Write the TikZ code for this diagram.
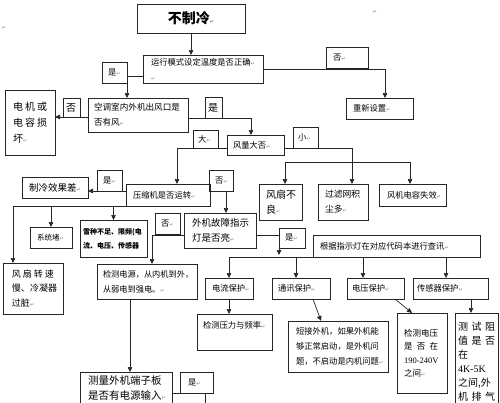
\documentclass[tikz,border=0pt]{standalone}
\usepackage{fontspec}
\setmainfont{Noto Sans CJK SC}
\newfontfamily\dejavu{DejaVu Sans}
\newfontfamily\tnr{Liberation Serif}
\usetikzlibrary{arrows.meta,calc}
\newcommand\rt{{\dejavu\fontsize{5}{5}\selectfont\color{black!50}↵}}
\newcommand\bx[8][]{%
  \pgfmathsetmacro\bxw{#5-#3}\pgfmathsetmacro\bxh{#6-#4}\pgfmathsetmacro\bxt{#5-#3-2*#7}%
  \node[box, anchor=north west, minimum width=\bxw pt, minimum height=\bxh pt,
        text width=\bxt pt, inner xsep=#7pt, #1] (#2) at (#3,#4) {#8};}
\tikzset{
  box/.style={draw=black!85, line width=0.7pt, inner ysep=0pt, outer sep=0pt,
              align=left, font=\fontsize{8.3}{15}\selectfont},
  ln/.style={draw=black!85, line width=0.7pt},
  arr/.style={ln, -{Triangle[length=5pt,width=4.5pt]}},
}
\begin{document}
\begin{tikzpicture}[x=1pt,y=-1pt]
\useasboundingbox (0,0) rectangle (500,402);
\fill[white] (0,0) rectangle (500,402);
\clip (0,0) rectangle (500,402);

\bx[font=\fontsize{14}{16}\selectfont\bfseries, align=center]{top}{137}{4}{245}{33}{7}{不制冷\rt}
\bx{q1}{143}{55}{263}{83}{8}{运行模式设定温度是否正确\rt\\\rt}
\bx{y1}{102}{62}{127}{83}{6}{是\rt}
\bx{n1}{326}{47}{368}{68}{7}{否\rt}
\bx{reset}{346}{98}{413}{119}{7}{重新设置\rt}
\bx[font=\fontsize{8.6}{15}\selectfont]{q2}{88}{98}{188}{132}{6}{空调室内外机出风口是\\否有风\rt}
\bx[font=\fontsize{10}{16}\selectfont]{n2}{63}{98}{80}{117}{3}{否}
\bx[font=\fontsize{10}{16}\selectfont]{motor}{5}{90}{55}{155}{8}{\makebox[34pt][s]{电\hfill 机\hfill 或}\\\makebox[34pt][s]{电\hfill 容\hfill 损}\\坏\rt}
\bx[font=\fontsize{10}{16}\selectfont]{y2}{205}{97}{222}{118}{3}{是}
\bx{big}{193}{130}{218}{148}{5}{大\rt}
\bx{q3}{227}{135}{284}{155}{6}{风量大否\rt}
\bx{small}{293}{127}{318}{148}{5}{小\rt}
\bx[font=\fontsize{10}{15}\selectfont]{fan}{259}{184}{302}{220}{7}{风扇不\\良\rt}
\bx[font=\fontsize{8.8}{15}\selectfont]{filter}{318}{184}{368}{220}{7}{过滤网积\\尘多\rt}
\bx{cap}{379}{184}{446}{206}{8}{风机电容失效\rt}
\bx{comp}{126}{184}{210}{206}{7}{压缩机是否运转\rt}
\bx{y3}{97}{170}{122}{191}{6}{是\rt}
\bx[font=\fontsize{9.5}{15}\selectfont]{poor}{22}{177}{88}{198}{7}{制冷效果差\rt}
\bx{n3}{209}{170}{233}{191}{6}{否\rt}
\bx[font=\fontsize{9.5}{15}\selectfont]{outfault}{184}{213}{256}{248}{8}{外机故障指示\\灯是否亮\rt}
\bx[font=\fontsize{7.5}{15}\selectfont]{clog}{30}{227}{72}{248}{7}{系统堵\rt}
\bx[font=\fontsize{7}{14}\selectfont\bfseries]{lack}{80}{220}{147}{257}{3}{雪种不足、限频(电\\流、电压、传感器}
\bx{n4}{155}{213}{180}{234}{6}{否\rt}
\bx{y4}{279}{228}{305}{248}{6}{是\rt}
\bx{lookup}{313}{235}{480}{257}{7}{根据指示灯在对应代码本进行查讯\rt}
\bx[font=\fontsize{9}{14.5}\selectfont]{fanslow}{3}{263}{63}{314}{9}{\makebox[42pt][s]{风\hfill 扇\hfill 转\hfill 速}\\慢、冷凝器\\过脏\rt}
\bx[font=\fontsize{8.2}{15}\selectfont]{power}{97}{264}{197}{299}{6}{检测电源，从内机到外，\\从弱电到强电。\rt}
\bx{curr}{205}{278}{253}{299}{7}{电流保护\rt}
\bx{comm}{272}{278}{330}{299}{6}{通讯保护\rt}
\bx{volt}{347}{278}{404}{299}{5}{电压保护\rt}
\bx{sens}{413}{278}{488}{299}{4}{传感器保护\rt}
\bx{press}{197}{314}{272}{350}{6}{检测压力与频率\rt\\\mbox{}}
\bx{short}{288}{321}{388}{372}{8}{短接外机，如果外机能\\够正常启动，是外机问\\题，不启动是内机问题\rt}
\bx[font=\fontsize{8.5}{13.5}\selectfont]{vcheck}{397}{313}{447}{393}{7}{检测电压\\\makebox[34pt][s]{是\hfill 否\hfill 在}\\{\tnr 190-240V}\\之间\rt}
\bx[font=\fontsize{10}{14}\selectfont]{rtest}{455}{313}{498}{411}{3}{\makebox[37pt][s]{测\hfill 试\hfill 阻}\\\makebox[37pt][s]{值\hfill 是\hfill 否}\\在\\{\tnr 4K-5K}\\之间,外\\\makebox[37pt][s]{机\hfill 排\hfill 气}}
\bx[font=\fontsize{10.5}{14.5}\selectfont]{measure}{80}{372}{172}{404}{8}{测量外机端子板\\是否有电源输入\rt}
\bx{ynew}{180}{372}{213}{393}{8}{是\rt}

\node[inner sep=0pt] (m1) at (4,28) {\rt};
\node[inner sep=0pt] (m2) at (375,12) {\rt};

% connectors
\draw[arr] (top.south) -- (top.south |- q1.north);
\draw[arr] ([yshift=-7pt]q1.west) -| ([xshift=39pt]q2.north west);
\draw[arr] (q1.east) -| ([xshift=39pt]reset.north west);
\coordinate (a) at ($(q2.west)+(0,2)$);
\draw[arr] (a) -- (a -| motor.east);
\draw[arr] ([yshift=-3pt]q2.east) -| ([xshift=24pt]q3.north west);
\draw[arr] ([yshift=-3pt]q3.west) -| ([xshift=51pt]comp.north west);
\draw[arr] ([yshift=-3pt]q3.east) -| ([xshift=34pt]filter.north west);
\coordinate (hL) at (285,162); \coordinate (hR) at (410,162);
\draw[ln] (hL) -- (hR);
\draw[arr] (hL) -- (hL |- fan.north);
\draw[arr] (hR) -- (hR |- cap.north);
\coordinate (cY) at ($(comp.west)+(0,-4)$);
\draw[arr] (cY) -- (cY -| poor.east);
\draw[arr] ([yshift=4pt]comp.east) -| ([xshift=42pt]outfault.north west);
\coordinate (pL) at (13,206);
\draw[ln] (comp.south west) -- (pL);
\draw[arr] (pL) -- (pL |- fanslow.north);
\draw[arr] (clog.north |- pL) -- (clog.north);
\draw[arr] (lack.north |- pL) -- (lack.north);
\draw[arr] ([yshift=-4.5pt]outfault.west) -| ([xshift=55pt]power.north west);
\coordinate (bL) at (229,257); \coordinate (bR) at (446,257);
\coordinate (bT) at (279,255);
\draw[arr] ([yshift=-4.5pt]outfault.east) -| (bT);
\draw[ln] (bL) -- (bR);
\draw[arr] (bL) -- (curr.north);
\coordinate (b2) at (296,257); \draw[arr] (b2) -- (b2 |- comm.north);
\coordinate (b3) at (363,257); \draw[arr] (b3) -- (b3 |- volt.north);
\draw[arr] (bR) -- (bR |- sens.north);
\draw[arr] (curr.south) -- (curr.south |- press.north);
\draw[arr] ([xshift=12pt]comm.south) -- ([xshift=-17pt]short.north);
\draw[arr] ([xshift=19.5pt]volt.south) -- ([xshift=-10pt]vcheck.north);
\coordinate (s1) at ([xshift=20.5pt]sens.south);
\draw[arr] (s1) -- (s1 |- rtest.north);
\coordinate (p1) at ([xshift=-17pt]power.south);
\draw[arr] (p1) -- (p1 |- measure.north);
\coordinate (mo) at (205,420);
\draw[ln] (measure.east |- ynew.south) -| (mo);
\end{tikzpicture}
\end{document}
